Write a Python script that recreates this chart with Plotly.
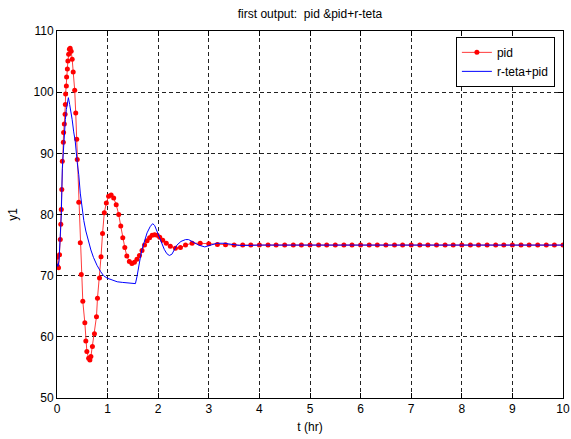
import plotly.graph_objects as go

# ---- data ----
pid_t = [0.0, 0.01, 0.03, 0.05, 0.065, 0.075, 0.085, 0.095, 0.105, 0.125, 0.13, 0.145,
         0.16, 0.165, 0.17, 0.185, 0.19, 0.205, 0.215, 0.23, 0.245, 0.26, 0.28, 0.30,
         0.32, 0.35, 0.37, 0.39, 0.40, 0.43, 0.46, 0.48, 0.51, 0.55, 0.57, 0.59, 0.625,
         0.65, 0.67, 0.70, 0.74, 0.78, 0.80, 0.84, 0.87, 0.90, 0.935, 0.975, 1.02, 1.07,
         1.12, 1.17, 1.22, 1.26, 1.30, 1.34, 1.38, 1.43, 1.48, 1.53, 1.58, 1.63, 1.68,
         1.73, 1.78, 1.83, 1.88, 1.93, 1.98, 2.03, 2.09, 2.16, 2.24, 2.34, 2.44, 2.54,
         2.67, 2.83, 3.0, 3.17, 3.33, 3.5, 3.67, 3.83, 4.0, 4.17, 4.33, 4.5, 4.67, 4.83,
         5.0, 5.17, 5.33, 5.5, 5.67, 5.83, 6.0, 6.17, 6.33, 6.5, 6.67, 6.83, 7.0, 7.17,
         7.33, 7.5, 7.67, 7.83, 8.0, 8.17, 8.33, 8.5, 8.67, 8.83, 9.0, 9.17, 9.33, 9.5,
         9.67, 9.83, 10.0]
pid_y = [73.0, 71.5, 71.3, 73.4, 75.9, 78.4, 80.8, 84.1, 88.7, 91.8, 93.4, 94.8,
         96.4, 98.0, 99.7, 101.0, 102.5, 103.8, 105.1, 106.2, 107.0, 107.2, 106.7, 105.4,
         103.3, 100.3, 96.6, 92.3, 89.0, 82.0, 75.4, 70.2, 65.8, 62.3, 59.3, 57.6, 56.5,
         56.2, 56.8, 58.4, 60.5, 63.3, 66.3, 69.6, 73.1, 76.9, 80.3, 81.9, 83.0, 83.2,
         82.7, 81.6, 80.0, 78.1, 76.2, 74.6, 73.2, 72.3, 72.0, 72.2, 72.7, 73.3, 74.1,
         75.0, 75.7, 76.2, 76.6, 76.7, 76.6, 76.3, 75.8, 75.3, 74.8, 74.5, 74.6, 75.0,
         75.3, 75.3, 75.2, 75.1, 75.05, 75.0, 75.0, 75.0, 75.0, 75.0, 75.0, 75.0, 75.0, 75.0,
         75.0, 75.0, 75.0, 75.0, 75.0, 75.0, 75.0, 75.0, 75.0, 75.0, 75.0, 75.0, 75.0, 75.0,
         75.0, 75.0, 75.0, 75.0, 75.0, 75.0, 75.0, 75.0, 75.0, 75.0, 75.0, 75.0, 75.0, 75.0,
         75.0, 75.0, 75.0]

rteta_t = [0.0, 0.02, 0.04, 0.065, 0.085, 0.105, 0.125, 0.145, 0.165, 0.185, 0.205, 0.225,
           0.25, 0.27, 0.30, 0.33, 0.36, 0.40, 0.43, 0.46, 0.49, 0.53, 0.57, 0.62, 0.67,
           0.72, 0.79, 0.86, 0.92, 0.99, 1.09, 1.19, 1.29, 1.38, 1.47, 1.55, 1.58, 1.61,
           1.65, 1.68, 1.73, 1.78, 1.84, 1.89, 1.93, 1.98, 2.03, 2.07, 2.12, 2.17, 2.22,
           2.27, 2.32, 2.37, 2.45, 2.54, 2.60, 2.70, 2.80, 2.92, 3.05, 3.16, 3.30, 3.45,
           3.60, 3.80, 4.0, 5.0, 6.0, 7.0, 8.0, 9.0, 10.0]
rteta_y = [72.0, 71.5, 72.5, 75.9, 80.0, 87.5, 90.5, 93.1, 95.5, 97.2, 98.5, 99.1,
           98.0, 96.6, 95.5, 93.5, 92.0, 88.5, 86.5, 83.5, 81.5, 79.0, 77.3, 75.7, 74.2,
           73.0, 71.7, 70.7, 70.0, 69.6, 69.3, 69.0, 68.9, 68.8, 68.7, 68.7, 69.8, 71.5,
           73.1, 74.3, 75.8, 77.0, 78.0, 78.5, 78.2, 77.2, 76.0, 75.2, 74.3, 73.6, 73.3,
           73.5, 74.2, 75.0, 75.6, 75.9, 75.9, 75.4, 75.0, 74.7, 75.0, 75.3, 75.3, 75.1,
           74.95, 74.95, 75.0, 75.0, 75.0, 75.0, 75.0, 75.0, 75.0]

x_ticks = [0, 1, 2, 3, 4, 5, 6, 7, 8, 9, 10]
y_ticks = [50, 60, 70, 80, 90, 100, 110]

FONT = "Liberation Sans, Arial, sans-serif"

fig = go.Figure()
fig.add_trace(go.Scatter(
    x=pid_t, y=pid_y, name="pid", mode="lines+markers",
    line=dict(color="#ff3b3b", width=1),
    marker=dict(color="#ff0000", size=5, line=dict(width=0)),
))
fig.add_trace(go.Scatter(
    x=rteta_t, y=rteta_y, name="r-teta+pid", mode="lines",
    line=dict(color="#0000ff", width=1),
))

axis_common = dict(
    showline=True, linecolor="black", linewidth=1, mirror="ticks",
    ticks="inside", ticklen=5, tickcolor="black",
    showgrid=True, gridcolor="#222222", gridwidth=1, griddash="4px,3px",
    zeroline=False, tickfont=dict(family=FONT, size=12, color="black"),
)

fig.update_xaxes(range=[0, 10], tickvals=x_ticks, ticktext=[str(v) for v in x_ticks],
                 title=dict(text="t (hr)", font=dict(family=FONT, size=12, color="black"),
                            standoff=7),
                 **axis_common)
fig.update_yaxes(range=[50, 110], tickvals=y_ticks, ticktext=[str(v) for v in y_ticks],
                 title=dict(text="y1", font=dict(family=FONT, size=12, color="black"),
                            standoff=13),
                 **axis_common)

fig.update_layout(
    width=571, height=439,
    margin=dict(l=57, r=8, t=31, b=41, autoexpand=False),
    paper_bgcolor="white", plot_bgcolor="white",
    title=dict(text="first output:  pid &pid+r-teta", x=0.5, xref="paper", xanchor="center",
               y=1 - 14 / 439, yanchor="middle", yref="container",
               font=dict(family=FONT, size=12, color="black")),
    legend=dict(x=0.984, y=0.984, xanchor="right", yanchor="top",
                bgcolor="white", bordercolor="black", borderwidth=1,
                font=dict(family=FONT, size=12, color="black"),
                itemwidth=30, tracegroupgap=0),
    showlegend=True,
)

# remove the default page margin so the 571x439 figure fills the window exactly
fig.write_html("out.html",
               config={"displayModeBar": False},
               post_script="document.body.style.margin='0';document.body.style.overflow='hidden';")
